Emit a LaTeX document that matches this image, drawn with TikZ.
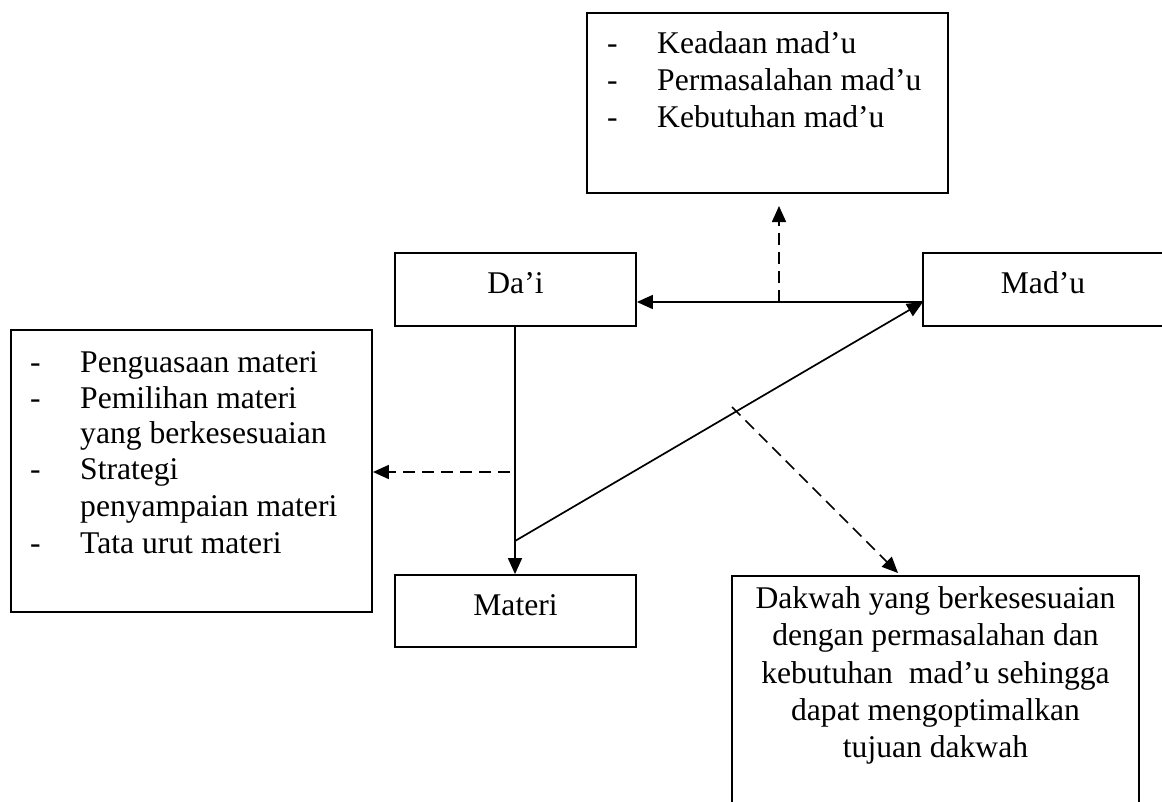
\documentclass[tikz,border=0pt]{standalone}
\usepackage{fontspec}
\setmainfont{Liberation Serif}
\usetikzlibrary{arrows.meta,calc}
\begin{document}
\begin{tikzpicture}[x=1pt,y=-1pt,
  every node/.style={font=\fontsize{31.6}{36.6}\selectfont, inner sep=0pt},
  frame/.style={draw, line width=1.8pt, rectangle},
  txt/.style={anchor=base west},
  ctxt/.style={anchor=base},
  arr/.style={line width=1.7pt, -{Triangle[length=16pt,width=14pt]}},
  dsh/.style={dash pattern=on 12pt off 7pt}]
\useasboundingbox (0,0) rectangle (1162,801);

% boxes
\node[frame, minimum width=361pt, minimum height=180pt] (madinfo) at (767.5,103) {};
\node[frame, minimum width=241pt, minimum height=73pt] (dai) at (515.5,289.5) {};
\node[frame, minimum width=241pt, minimum height=73pt] (madu) at (1043.5,289.5) {};
\node[frame, minimum width=361pt, minimum height=282pt] (matinfo) at (191.5,471) {};
\node[frame, minimum width=241pt, minimum height=72pt] (materi) at (515.5,611) {};
\node[minimum width=407pt, minimum height=244pt] (dakwah) at (935.5,698) {};
\draw[line width=1.8pt] (dakwah.south west) |- (dakwah.north east) -- (dakwah.south east);

% box labels
\node[ctxt] (daitxt) at (515.5,293) {Da’i};
\node[ctxt] (madutxt) at (1043,293) {Mad’u};
\node[ctxt] (materitxt) at (515.5,615) {Materi};

% list about the mad'u
\foreach \t [count=\i] in {Keadaan mad’u, Permasalahan mad’u, Kebutuhan mad’u} {
  \node[txt] (mdash\i) at (607,{53+37*(\i-1)}) {-};
  \node[txt] (mitem\i) at (657,{53+37*(\i-1)}) {\t};
}

% list about the material
\node[txt] (pdash1) at (30,372) {-};
\node[txt] (pitem1) at (80,372) {Penguasaan materi};
\node[txt] (pdash2) at (30,408.3) {-};
\node[txt] (pitem2) at (80,408.3) {Pemilihan materi};
\node[txt] (pitem3) at (80,443.5) {yang berkesesuaian};
\node[txt] (pdash4) at (30,479.5) {-};
\node[txt] (pitem4) at (80,479.5) {Strategi};
\node[txt] (pitem5) at (80,516) {penyampaian materi};
\node[txt] (pdash6) at (30,553) {-};
\node[txt] (pitem6) at (80,553) {Tata urut materi};

% outcome text
\node[ctxt] (dk1) at (935.5,608) {Dakwah yang berkesesuaian};
\node[ctxt] (dk2) at (935.5,645.5) {dengan permasalahan dan};
\node[ctxt] (dk3) at (935.5,683) {kebutuhan\ \ mad’u sehingga};
\node[ctxt] (dk4) at (935.5,720) {dapat mengoptimalkan};
\node[ctxt] (dk5) at (935.5,757) {tujuan dakwah};

% connectors
\coordinate (mj) at (923,302);
\coordinate (up0) at (779,302);
\coordinate (up1) at (779,206);
\coordinate (jn) at (515,541);
\coordinate (lf0) at (510,472);
\coordinate (dg0) at (732,407);
\coordinate (dg1) at (898,573);

\draw[arr] (mj) -- (dai.east |- mj);
\draw[arr, dsh] (up0) -- (up1);
\draw[arr] (dai.south -| jn) -- (materi.north -| jn);
\draw[arr] (jn) -- (mj);
\draw[arr, dsh] (lf0) -- (matinfo.east |- lf0);
\draw[arr, dsh] (dg0) -- (dg1);
\end{tikzpicture}
\end{document}
